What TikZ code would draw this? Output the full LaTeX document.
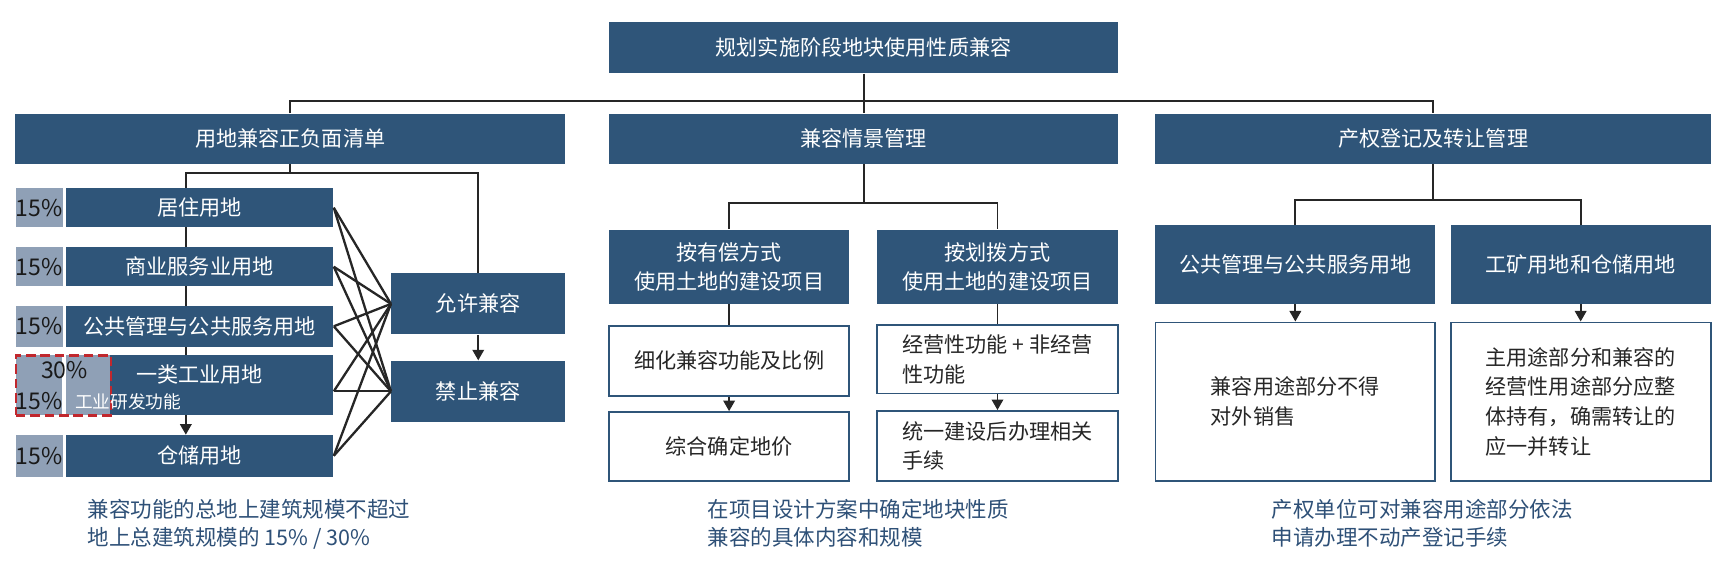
\documentclass[tikz,border=0pt]{standalone}
\usepackage{fontspec}
\setmainfont{Noto Sans CJK SC}
\usetikzlibrary{arrows.meta,backgrounds}

\definecolor{navy}{HTML}{2F5579}
\definecolor{pctgray}{HTML}{8FA0B6}
\definecolor{dashred}{HTML}{C1272D}
\definecolor{notetext}{HTML}{2E5077}

\tikzset{
  darkbox/.style={fill=navy, text=white, inner sep=0pt, align=center,
    font=\fontsize{11}{15}\selectfont},
  whitebox/.style={draw=navy, line width=1pt, fill=white, text=black!85,
    inner sep=0pt, align=left, font=\fontsize{11}{15.5}\selectfont},
  pctbox/.style={fill=pctgray, text=black!90, minimum width=0.84cm,
    inner sep=0pt, font=\fontsize{12}{14}\selectfont},
  note/.style={text=notetext, align=left, anchor=north west, inner sep=0pt,
    font=\fontsize{11.2}{15}\selectfont},
  link/.style={line width=1pt, draw=black!85},
  >={Triangle[length=5.5pt,width=6pt]}
}

\begin{document}
\begin{tikzpicture}[x=0.02cm,y=-0.02cm]
 \useasboundingbox (0,0) rectangle (1568,514);
 % top levels
 \node[darkbox, minimum width=9.32cm, minimum height=0.94cm] (title) at (790,43.5) {规划实施阶段地块使用性质兼容};
 \node[darkbox, minimum width=10.06cm, minimum height=0.92cm] (zfqd) at (265.5,127) {用地兼容正负面清单};
 \node[darkbox, minimum width=9.32cm, minimum height=0.92cm] (qjgl) at (790,127) {兼容情景管理};
 \node[darkbox, minimum width=10.16cm, minimum height=0.92cm] (cqdj) at (1311,127) {产权登记及转让管理};
 \coordinate (tophub) at (790,92);
 \draw[link] (title.south) -- (qjgl.north);
 \draw[link] (zfqd.north) |- (tophub) -| (cqdj.north);

 % left column: land use list
 \node[darkbox, minimum width=4.9cm, minimum height=0.72cm] (juzhu) at (182.5,190) {居住用地};
 \node[darkbox, minimum width=4.9cm, minimum height=0.72cm] (shangye) at (182.5,244) {商业服务业用地};
 \node[darkbox, minimum width=4.9cm, minimum height=0.74cm] (gonggong) at (182.5,298.5) {公共管理与公共服务用地};
 \node[darkbox, minimum width=4.9cm, minimum height=1.1cm] (yilei) at (182.5,352.5) {};
 \node[darkbox, fill=none] (yileitext) at (182.5,343) {一类工业用地};
 \node[darkbox, minimum width=4.9cm, minimum height=0.76cm] (cangchu) at (182.5,417) {仓储用地};
 \node[pctbox, minimum height=0.72cm] (pjuzhu) at (36,190) {15\%};
 \node[pctbox, minimum height=0.72cm] (pshangye) at (36,244) {15\%};
 \node[pctbox, minimum height=0.74cm] (pgonggong) at (36,298.5) {15\%};
 \node[pctbox, minimum height=1.1cm] (pyileia) at (36,352.5) {};
 \node[pctbox, minimum width=0.81cm, minimum height=1.1cm] (pyileib) at (80.3,352.5) {};
 \node[pctbox, minimum height=0.76cm] (pcangchu) at (36,417) {15\%};
 \node[draw=dashred, dashed, line width=1.4pt, dash pattern=on 5pt off 2.5pt,
   minimum width=1.74cm, minimum height=1.1cm, inner sep=0pt] (rdash) at (58,352.5) {};
 \node[text=black!90, font=\fontsize{12}{14}\selectfont] (pthirty) at (59,338.5) {30\%};
 \node[text=black!90, font=\fontsize{12}{14}\selectfont] (pfifteen) at (36,367) {15\%};
 \node[text=white, anchor=west, inner sep=0pt, font=\fontsize{9.2}{11}\selectfont] (yanfa) at (68.5,367.5) {工业研发功能};

 \node[darkbox, minimum width=3.18cm, minimum height=1.12cm] (yunxu) at (437.5,278) {允许兼容};
 \node[darkbox, minimum width=3.18cm, minimum height=1.12cm] (jinzhi) at (437.5,358) {禁止兼容};

 \begin{pgfonlayer}{background}
  \draw[link] (zfqd.south) -- ++(0,8) coordinate (lefthub);
  \coordinate (spine) at (170,0);
  \draw[link,->] (lefthub) -- (spine |- lefthub) -- (spine |- cangchu.north);
  \draw[link] (lefthub) -| (yunxu.north);
 \end{pgfonlayer}
 \draw[link,->] (yunxu.south) -- (jinzhi.north);
 \coordinate (yileiout) at (yilei.east |- jinzhi.west);
 \foreach \src in {juzhu.east,shangye.east,gonggong.east,yileiout,cangchu.east}{
  \draw[link, line width=1.2pt] (\src) -- (yunxu.west);
  \draw[link, line width=1.2pt] (\src) -- (jinzhi.west);
 }

 % middle column
 \node[darkbox, minimum width=4.4cm, minimum height=1.36cm] (youchang) at (667,244) {按有偿方式\\使用土地的建设项目};
 \node[darkbox, minimum width=4.42cm, minimum height=1.36cm] (huabo) at (912.5,244) {按划拨方式\\使用土地的建设项目};
 \node[whitebox, minimum width=4.4cm, minimum height=1.28cm] (xihua) at (667,330) {细化兼容功能及比例};
 \node[whitebox, minimum width=4.4cm, minimum height=1.26cm] (zonghe) at (667,408.5) {综合确定地价};
 \node[whitebox, minimum width=4.42cm, minimum height=1.26cm] (jingying) at (912.5,328.5) {经营性功能 + 非经营\\性功能};
 \node[whitebox, minimum width=4.42cm, minimum height=1.28cm] (tongyi) at (912.5,408) {统一建设后办理相关\\手续};
 \draw[link] (qjgl.south) -- ++(0,35) coordinate (midhub);
 \draw[link] (youchang.north) |- (midhub) -| (huabo.north);
 \draw[link] (youchang.south) -- (xihua.north);
 \draw[link] (huabo.south) -- (jingying.north);
 \draw[link,->] (xihua.south) -- (zonghe.north);
 \draw[link,->] (jingying.south) -- (tongyi.north);

 % right column
 \node[darkbox, minimum width=5.12cm, minimum height=1.44cm] (gglr) at (1185,242) {公共管理与公共服务用地};
 \node[darkbox, minimum width=4.76cm, minimum height=1.44cm] (gkcc) at (1446,242) {工矿用地和仓储用地};
 \node[whitebox, minimum width=5.12cm, minimum height=2.9cm] (bude) at (1185,367.5) {兼容用途部分不得\\对外销售};
 \node[whitebox, minimum width=4.76cm, minimum height=2.9cm] (zhengti) at (1446,367.5) {主用途部分和兼容的\\经营性用途部分应整\\体持有，确需转让的\\应一并转让};
 \draw[link] (cqdj.south) -- ++(0,33) coordinate (righthub);
 \draw[link] (gglr.north) |- (righthub) -| (gkcc.north);
 \draw[link,->] (gglr.south) -- (bude.north);
 \draw[link,->] (gkcc.south) -- (zhengti.north);

 % notes
 \node[note] (noteleft) at (80,456) {兼容功能的总地上建筑规模不超过\\地上总建筑规模的 15\% / 30\%};
 \node[note] (notemid) at (647,456) {在项目设计方案中确定地块性质\\兼容的具体内容和规模};
 \node[note] (noteright) at (1163,456) {产权单位可对兼容用途部分依法\\申请办理不动产登记手续};
\end{tikzpicture}
\end{document}
